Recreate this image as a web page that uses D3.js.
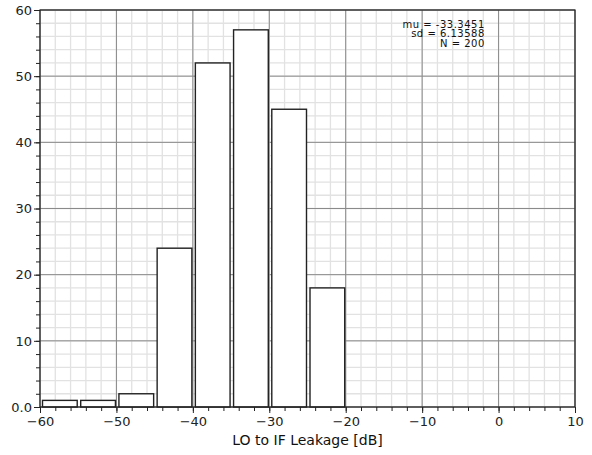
<!DOCTYPE html>
<meta charset="utf-8">
<script src="https://cdnjs.cloudflare.com/ajax/libs/d3/7.8.5/d3.min.js"></script>
<style>
  body { margin: 0; background: #fff; }
  text { font-family: "DejaVu Sans", sans-serif; }
</style>
<div id="chart"></div>
<script>

  // histogram bins (left edge, dB) and counts
  const binStarts = [-60, -55, -50, -45, -40, -35, -30, -25, -20, -15, -10, -5, 0, 5]
  const counts = [1, 1, 2, 24, 52, 57, 45, 18, 0, 0, 0, 0, 0, 0]
  const binWidth = 5
  const xTicks = [-60, -50, -40, -30, -20, -10, 0, 10]
  const yTicks = [0, 10, 20, 30, 40, 50, 60]
  const yTickLabels = ['0.0', '10', '20', '30', '40', '50', '60']
  const stats = ['mu = -33.3451', 'sd = 6.13588', 'N = 200']

  const margin = { top: 10, right: 17, bottom: 48, left: 40 }
  const width = 592 - margin.left - margin.right
  const height = 455 - margin.top - margin.bottom

  const svg = d3.select('#chart').
    append('svg').
    attr('width', 592).
    attr('height', 455).
    append('g').
    attr('transform', 'translate(' + margin.left + ',' + margin.top + ')')

  const x = d3.scaleLinear().domain([-60, 10]).range([0, width])
  const y = d3.scaleLinear().domain([0, 60]).range([height, 0])

  // minor grid every 2 units
  const minorX = d3.range(-60, 10.01, 2)
  const minorY = d3.range(0, 60.01, 2)
  svg.append('g').selectAll('line').data(minorX).join('line').
    attr('x1', d => x(d)).attr('x2', d => x(d)).
    attr('y1', 0).attr('y2', height).
    attr('stroke', '#e2e2e2').attr('stroke-width', 1.3)
  svg.append('g').selectAll('line').data(minorY).join('line').
    attr('y1', d => y(d)).attr('y2', d => y(d)).
    attr('x1', 0).attr('x2', width).
    attr('stroke', '#e2e2e2').attr('stroke-width', 1.3)

  // major grid
  svg.append('g').selectAll('line').data(xTicks).join('line').
    attr('x1', d => x(d)).attr('x2', d => x(d)).
    attr('y1', 0).attr('y2', height).
    attr('stroke', '#8a8a8a').attr('stroke-width', 1)
  svg.append('g').selectAll('line').data(yTicks).join('line').
    attr('y1', d => y(d)).attr('y2', d => y(d)).
    attr('x1', 0).attr('x2', width).
    attr('stroke', '#8a8a8a').attr('stroke-width', 1)

  // bars
  svg.append('g').selectAll('rect').data(counts.map((c, i) => ({ x0: binStarts[i], c: c }))).
    join('rect').
    filter(d => d.c > 0).
    attr('x', d => x(d.x0) + 2.5).
    attr('width', d => x(d.x0 + binWidth) - x(d.x0) - 3.5).
    attr('y', d => y(d.c)).
    attr('height', d => y(0) - y(d.c)).
    attr('fill', '#fff').
    attr('stroke', '#222').
    attr('stroke-width', 1.4)

  // frame
  svg.append('rect').
    attr('width', width).attr('height', height).
    attr('fill', 'none').attr('stroke', '#222').attr('stroke-width', 1.2)

  // axes
  const xAxis = d3.axisBottom(x).tickValues(xTicks).tickFormat(d => d < 0 ? '\u2212' + Math.abs(d) : d).
    tickSize(6).tickPadding(4)
  const gx = svg.append('g').attr('transform', 'translate(0,' + height + ')').call(xAxis)
  gx.append('g').call(d3.axisBottom(x).tickValues(minorX).tickSize(4).tickFormat(''))

  const yAxis = d3.axisLeft(y).tickValues(yTicks).tickFormat((d, i) => yTickLabels[i]).
    tickSize(6).tickPadding(2)
  const gy = svg.append('g').call(yAxis)
  gy.append('g').call(d3.axisLeft(y).tickValues(minorY).tickSize(4).tickFormat(''))

  svg.selectAll('.domain').remove()
  svg.selectAll('.tick line').attr('stroke', '#222')
  svg.selectAll('.tick text').attr('font-size', 13).attr('fill', '#222')

  // axis label
  svg.append('text').
    attr('x', width / 2).attr('y', height + 38).
    attr('text-anchor', 'middle').
    attr('font-size', 14).attr('fill', '#111').
    text('LO to IF Leakage [dB]')

  // stats box
  svg.append('g').selectAll('text').data(stats).join('text').
    attr('x', x(-1.8)).
    attr('y', (d, i) => 17.5 + i * 9.7).
    attr('text-anchor', 'end').
    attr('font-family', '"DejaVu Sans Condensed", sans-serif').
    attr('font-size', 10).
    attr('letter-spacing', 0.5).
    attr('fill', '#111').
    text(d => d)

</script>
